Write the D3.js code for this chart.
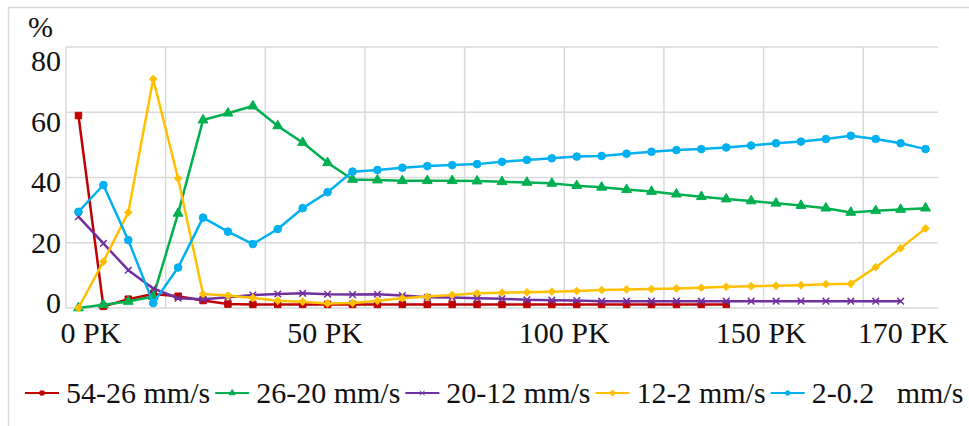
<!DOCTYPE html>
<html>
<head>
<meta charset="utf-8">
<script src="https://cdn.jsdelivr.net/npm/d3@7"></script>
<style>
  html, body { margin: 0; padding: 0; background: #fff; }
  svg text { font-family: "Liberation Serif", "Times New Roman", serif; fill: #111; }
</style>
</head>
<body>
<div id="chart"></div>
<script>
// category index (each step is one PK station)
const categories = d3.range(35);

const xTickLabels = ["0 PK", "50 PK", "100 PK", "150 PK", "170 PK"];
const xTickAt = [0.5, 9.9, 19.5, 27.4, 33.1];   // where the labels sit, in category units
const yTicks = [0, 20, 40, 60, 80];

const seriesNames = ["54-26 mm/s", "26-20 mm/s", "20-12 mm/s", "12-2 mm/s", "2-0.2   mm/s"];

const red = [59, 0.5, 2.7, 4.3, 3.6, 2.3, 1.2, 1.1, 1.1, 1.1, 1.1, 1.1, 1.1, 1.1, 1.1,
    1.1, 1.1, 1.1, 1.1, 1.1, 1.1, 1.1, 1.1, 1.1, 1.1, 1.1, 1.1];
const green = [0, 1, 2, 3.5, 29, 57.6, 59.7, 61.9, 55.8, 50.7, 44.5, 39.4, 39.2, 39.0, 39.0,
    39.0, 38.9, 38.7, 38.5, 38.2, 37.5, 37.0, 36.3, 35.7, 34.9, 34.1, 33.4, 32.8, 32.1, 31.4,
    30.6, 29.3, 29.8, 30.2, 30.6];
const purple = [28, 19.8, 11.6, 6.0, 3.0, 2.7, 3.3, 4.0, 4.3, 4.5, 4.2, 4.1, 4.2, 3.8, 3.3,
    3.2, 3.0, 2.8, 2.5, 2.4, 2.3, 2.1, 2.1, 2.1, 2.1, 2.1, 2.1, 2.1, 2.1, 2.1, 2.1, 2.1, 2.1, 2.1];
const yellow = [0, 14.2, 29.3, 70.2, 39.7, 4.3, 3.8, 3.1, 2.2, 1.9, 1.4, 1.5, 2.2, 3.0, 3.5,
    4.0, 4.5, 4.7, 4.8, 5.0, 5.2, 5.5, 5.7, 5.8, 6.0, 6.2, 6.5, 6.7, 6.8, 7.0,
    7.3, 7.4, 12.5, 18.3, 24.4];
const blue = [29.5, 37.7, 20.8, 1.5, 12.4, 27.7, 23.4, 19.6, 24.2, 30.6, 35.5, 41.8, 42.3, 43.0, 43.5,
    43.8, 44.1, 44.8, 45.4, 45.9, 46.4, 46.6, 47.3, 47.9, 48.4, 48.7, 49.2, 49.8, 50.5, 51.0,
    51.8, 52.8, 51.8, 50.5, 48.7];

const colors = ["#C00000", "#00B050", "#7030A0", "#FFC000", "#00B0F0"];
// diamond = square turned 45deg (Excel style)
const shapes = [d3.symbolSquare, d3.symbolTriangle, d3.symbolX, d3.symbolSquare, d3.symbolCircle];
const rotations = [0, 0, 0, 45, 0];
const markerSize = [42, 42, 30, 26, 46];
const allSeries = [red, green, purple, yellow, blue];

const W = 969, H = 426;
const svg = d3.select("#chart").append("svg")
    .attr("width", W).attr("height", H);

// outer frame
svg.append("rect")
    .attr("x", 8.5).attr("y", 7.5)
    .attr("width", 1000).attr("height", 1000)
    .attr("fill", "none").attr("stroke", "#d9d9d9").attr("stroke-width", 1.5);

const x = d3.scaleBand().domain(categories).range([66, 938]);
const xc = d => x(d) + x.bandwidth() / 2;
const xIdx = d3.scaleLinear().domain([0, 34]).range([xc(0), xc(34)]);
const y = d3.scaleLinear().domain([0, 80]).range([308, 47]);
// the value labels are placed a bit off their gridlines in the original
const yLab = d3.scaleLinear().domain([0, 80]).range([313, 71]);

/* ---------- grid ---------- */
const grid = svg.append("g").attr("stroke", "#d9d9d9").attr("stroke-width", 1.5);
grid.selectAll("line.h")
    .data(yTicks)
    .join("line")
    .attr("x1", 66).attr("x2", 938)
    .attr("y1", d => y(d)).attr("y2", d => y(d));
grid.selectAll("line.v")
    .data(categories.filter(d => d % 4 === 0))
    .join("line")
    .attr("x1", d => x(d)).attr("x2", d => x(d))
    .attr("y1", y(80)).attr("y2", y(0));

/* ---------- axis labels ---------- */
svg.append("g")
    .selectAll("text")
    .data(yTicks)
    .join("text")
    .attr("x", 61)
    .attr("y", d => yLab(d))
    .attr("text-anchor", "end")
    .attr("font-size", 30)
    .text(d => d);

svg.append("text")
    .attr("x", 28).attr("y", 37)
    .attr("font-size", 30)
    .text("%");

svg.append("g")
    .selectAll("text")
    .data(xTickLabels)
    .join("text")
    .attr("x", (d, i) => xIdx(xTickAt[i]))
    .attr("y", 343)
    .attr("text-anchor", "middle")
    .attr("font-size", 30)
    .text(d => d);

/* ---------- series ---------- */
const line = d3.line()
    .x((d, i) => xc(categories[i]))
    .y(d => y(d));

allSeries.forEach((vals, s) => {
    const g = svg.append("g");
    g.append("path")
        .datum(vals)
        .attr("d", line)
        .attr("fill", "none")
        .attr("stroke", colors[s])
        .attr("stroke-width", 2.5)
        .attr("stroke-linejoin", "round");

    const isX = shapes[s] === d3.symbolX;
    g.selectAll("path.m")
        .data(vals)
        .join("path")
        .attr("class", "m")
        .attr("transform", (d, i) =>
            `translate(${xc(categories[i])},${y(d)}) rotate(${rotations[s]})`)
        .attr("d", d3.symbol().type(shapes[s]).size(markerSize[s]))
        .attr("fill", isX ? "none" : colors[s])
        .attr("stroke", colors[s])
        .attr("stroke-width", isX ? 1.5 : 1);
});

/* ---------- legend ---------- */
const legend = svg.append("g");
let lx = 25;
seriesNames.forEach((name, s) => {
    const g = legend.append("g").attr("transform", `translate(${lx},393)`);
    g.append("line")
        .attr("x1", 0).attr("x2", 34)
        .attr("stroke", colors[s]).attr("stroke-width", 2);
    const isX = shapes[s] === d3.symbolX;
    g.append("path")
        .attr("transform", `translate(17,0) rotate(${rotations[s]})`)
        .attr("d", d3.symbol().type(shapes[s]).size(isX ? 18 : 16))
        .attr("fill", isX ? "none" : colors[s])
        .attr("stroke", colors[s])
        .attr("stroke-width", 1);
    const t = g.append("text")
        .attr("x", 41).attr("y", 10)
        .attr("font-size", 30)
        .attr("xml:space", "preserve")
        .style("white-space", "pre")
        .text(name);
    lx += 41 + t.node().getComputedTextLength() + 5;
});
</script>
</body>
</html>
